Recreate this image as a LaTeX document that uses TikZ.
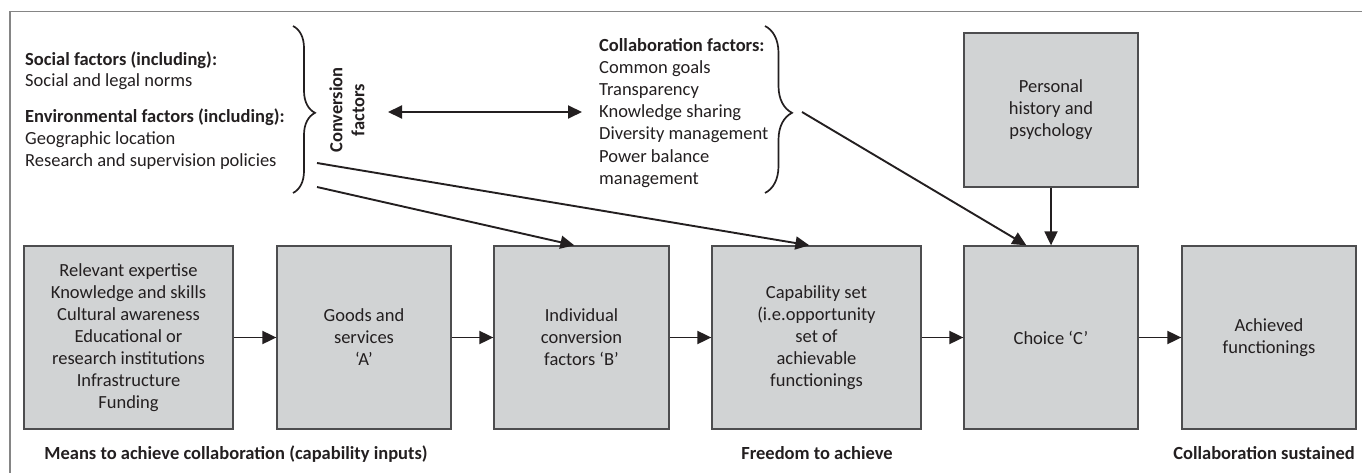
\documentclass[tikz,border=0pt]{standalone}
\usepackage{fontspec}
\setmainfont{Carlito}
\usetikzlibrary{arrows.meta,decorations.pathreplacing}
\definecolor{ink}{HTML}{231F20}
\definecolor{boxfill}{HTML}{D1D3D4}
\definecolor{boxline}{HTML}{4D4D4F}
\definecolor{framegray}{HTML}{858585}
\begin{document}
\begin{tikzpicture}[x=1pt,y=-1pt,
  txt/.style={text=ink, inner sep=0pt, font=\fontsize{18.5}{22}\selectfont},
  head/.style={text=ink, inner sep=0pt, font=\fontsize{18.5}{22}\selectfont\bfseries},
  stage/.style={txt, draw=boxline, line width=1.3pt, fill=boxfill, align=center,
                minimum height=183pt},
  tip/.style={},
  flow/.style={draw=ink, line width=1.9pt, -{Triangle[length=14pt,width=13pt]}},
  twoway/.style={draw=ink, line width=1.9pt,
                 {Triangle[length=14pt,width=13pt]}-{Triangle[length=14pt,width=13pt]}},
  curly/.style={draw=ink, line width=1.7pt, decorate}]
\useasboundingbox (0,0) rectangle (1362,473);

% outer frame (top and left edges only)
\draw[framegray, line width=1.6pt] (10,473) -- (10,11.5) -- (1362,11.5);

% social and environmental factors
\node[head, anchor=base west] (soc)  at (25,66)  {Social factors (including):};
\node[txt,  anchor=base west] (socn) at (25,87)  {Social and legal norms};
\node[head, anchor=base west] (env)  at (25,123) {Environmental factors (including):};
\node[txt,  anchor=base west] (geo)  at (25,145) {Geographic location};
\node[txt,  anchor=base west] (pol)  at (25,167) {Research and supervision policies};

% conversion factors brace and label
\draw[curly, decoration={brace, amplitude=22pt, aspect=0.52}] (293,26) -- (293,193);
\node[head, rotate=90, align=center] (conv) at (347,110) {Conversion\\factors};

% collaboration factors
\node[head, anchor=base west] (cf0) at (599,52)  {Collaboration factors:};
\node[txt,  anchor=base west] (cf1) at (599,74)  {Common goals};
\node[txt,  anchor=base west] (cf2) at (599,96)  {Transparency};
\node[txt,  anchor=base west] (cf3) at (599,118) {Knowledge sharing};
\node[txt,  anchor=base west] (cf4) at (599,140) {Diversity management};
\node[txt,  anchor=base west] (cf5) at (599,163) {Power balance};
\node[txt,  anchor=base west] (cf6) at (599,185) {management};
\draw[curly, decoration={brace, amplitude=27pt, aspect=0.52}] (765,26) -- (765,193);

% stages of the capability model
\node[stage, minimum width=209pt] (means) at (128.5,337.5)
  {Relevant expertise\\Knowledge and skills\\Cultural awareness\\Educational or\\research institutions\\Infrastructure\\Funding};
\node[stage, minimum width=174pt] (goods) at (364,337.5) {Goods and\\services\\‘A’};
\node[stage, minimum width=175pt] (indiv) at (581.5,337.5) {Individual\\conversion\\factors ‘B’};
\node[stage, minimum width=209pt] (capset) at (816.5,337.5)
  {Capability set\\(i.e.opportunity\\set of\\achievable\\functionings};
\node[stage, minimum width=174pt] (choice) at (1051,337.5) {Choice ‘C’};
\node[stage, minimum width=174pt] (achieved) at (1269,337.5) {Achieved\\functionings};
\node[stage, minimum width=174pt, minimum height=154pt] (personal) at (1051,110)
  {Personal\\history and\\psychology};

% captions under the stages
\node[head, anchor=base] (capin)  at (236,459)  {Means to achieve collaboration (capability inputs)};
\node[head, anchor=base] (free)   at (817,459)  {Freedom to achieve};
\node[head, anchor=base] (sust)   at (1264,459) {Collaboration sustained};

% connector end points
\coordinate (dl)  at (388,112);
\coordinate (dr)  at (582,112);
\coordinate (cb1) at (317,163);
\coordinate (cb2) at (317,187);
\coordinate (cb3) at (802,112);

% connectors
\draw[twoway] (dl) -- (dr);
\draw[flow] (cb1) -- ([xshift=98pt]capset.north west);
\draw[flow] (cb2) -- ([xshift=81pt]indiv.north west);
\draw[flow] (cb3) -- ([xshift=63pt]choice.north west);
\draw[flow] (personal) -- (choice);
\draw[flow] (means) -- (goods);
\draw[flow] (goods) -- (indiv);
\draw[flow] (indiv) -- (capset);
\draw[flow] (capset) -- (choice);
\draw[flow] (choice) -- (achieved);
\end{tikzpicture}
\end{document}
